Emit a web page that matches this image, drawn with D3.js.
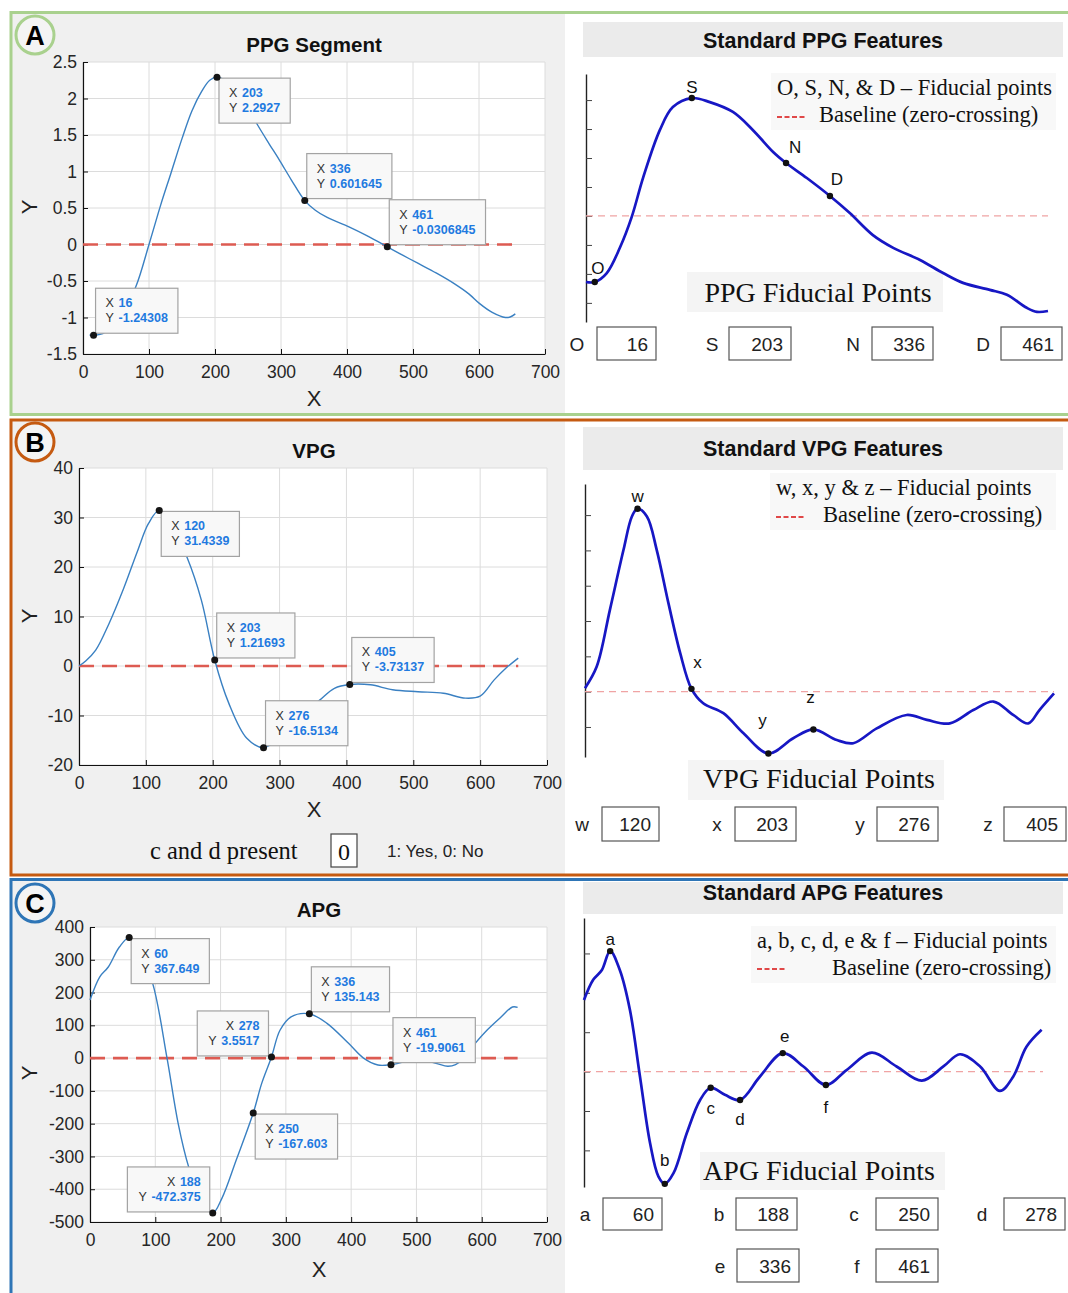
<!DOCTYPE html>
<html><head><meta charset="utf-8">
<script src="https://cdn.jsdelivr.net/npm/d3@7"></script>
<style>html,body{margin:0;padding:0;background:#fff;} svg{display:block;}</style>
</head><body>
<svg id="fig" width="1068" height="1293"></svg>
<script>
// ---------------- DATA ----------------
const xTicks = [0, 100, 200, 300, 400, 500, 600, 700];
const ppgYTicks = [-1.5, -1, -0.5, 0, 0.5, 1, 1.5, 2, 2.5];
const vpgYTicks = [-20, -10, 0, 10, 20, 30, 40];
const apgYTicks = [-500, -400, -300, -200, -100, 0, 100, 200, 300, 400];

// PPG segment (left, panel A)
const ppgX = [10, 16, 30, 45, 60, 80, 100, 118, 133, 150, 165, 180, 192, 203, 215, 230, 248, 265, 282, 298, 316, 336, 352, 370, 403, 430, 461, 485, 508, 535, 563, 585, 601, 620, 640, 648, 655];
const ppgY = [-1.24, -1.243, -1.22, -1.12, -0.93, -0.58, 0.0, 0.55, 0.97, 1.45, 1.83, 2.1, 2.25, 2.2927, 2.25, 2.12, 1.9, 1.63, 1.38, 1.15, 0.88, 0.6016, 0.47, 0.37, 0.24, 0.12, -0.031, -0.15, -0.26, -0.39, -0.54, -0.68, -0.81, -0.93, -1.0, -0.99, -0.95];
const ppgTipX = [16, 203, 336, 461];
const ppgTipY = [-1.24308, 2.2927, 0.601645, -0.0306845];
const ppgTipPlace = ['ar', 'br', 'ar', 'ar'];

// VPG (left, panel B)
const vpgX = [0, 10, 25, 45, 66, 88, 104, 120, 140, 162, 183, 203, 224, 251, 276, 300, 330, 360, 382, 405, 436, 469, 507, 545, 578, 600, 621, 638, 657];
const vpgY = [0, 1.0, 3.2, 8.6, 15.4, 23.4, 28.8, 31.43, 28.0, 21.8, 13.3, 1.22, -7.5, -14.6, -16.51, -14.5, -10.5, -6.9, -4.5, -3.73, -3.8, -4.8, -5.2, -5.5, -6.5, -6.1, -2.8, -0.5, 1.6];
const vpgTipX = [120, 203, 276, 405];
const vpgTipY = [31.4339, 1.21693, -16.5134, -3.73137];
const vpgTipPlace = ['br', 'ar', 'ar', 'ar'];

// APG (left, panel C)
const apgX = [0, 15, 28, 45, 60, 75, 96, 118, 135, 151, 170, 188, 202, 224, 250, 263, 278, 291, 308, 336, 363, 396, 419, 441, 461, 485, 505, 530, 548, 560, 570, 590, 608, 630, 647, 655];
const apgY = [177, 248, 278, 339, 367.6, 330, 228, 0, -199, -331, -430, -472.4, -428, -311, -167.6, -77, 3.55, 85, 126, 135.1, 106, 45, 0, -21, -19.9, -10, -5, -16, -25, -20, -5, 45, 85, 126, 156, 155];
const apgTipX = [60, 188, 250, 278, 336, 461];
const apgTipY = [367.649, -472.375, -167.603, 3.5517, 135.143, -19.9061];
const apgTipPlace = ['br', 'al', 'br', 'al', 'ar', 'ar'];

// Standard (schematic) curves, right column — arbitrary units
const stdPpgX = [0, 1.9, 4.5, 7.4, 9.9, 12.4, 16.0, 18.8, 22.9, 26.8, 31.8, 36.1, 40.5, 43.3, 47.8, 52.8, 57.1, 62.1, 66.5, 72.3, 77.3, 81.6, 87.4, 91.1, 95.4, 97.6, 100];
const stdPpgY = [-2.28, -2.28, -1.97, -1.07, -0.03, 1.34, 2.97, 3.76, 4.07, 3.93, 3.59, 2.97, 2.21, 1.83, 1.31, 0.69, 0.10, -0.66, -1.10, -1.52, -1.97, -2.31, -2.55, -2.72, -3.17, -3.31, -3.28];
const stdPpgTicks = [-3, -2, -1, 0, 1, 2, 3, 4];
const ppgFidNames = ['O', 'S', 'N', 'D'];
const ppgFidStdX = [1.9, 22.9, 43.3, 52.8];
const ppgFidStdY = [-2.28, 4.07, 1.83, 0.69];
const ppgFidValues = [16, 203, 336, 461];

const stdVpgX = [0, 2.5, 5.3, 8.2, 10.0, 11.2, 13.2, 15.3, 17.8, 20.3, 22.7, 25.2, 29.5, 33.8, 39.1, 44.4, 48.7, 53.7, 57.2, 62.2, 68.6, 72.9, 77.8, 82.8, 87.1, 91.3, 94.5, 96.9, 100];
const stdVpgY = [0.10, 0.71, 2.31, 4.01, 4.96, 5.18, 4.96, 4.01, 2.50, 1.09, 0.08, -0.33, -0.61, -1.18, -1.75, -1.32, -1.07, -1.37, -1.46, -1.04, -0.66, -0.80, -0.90, -0.52, -0.28, -0.66, -0.90, -0.52, -0.05];
const stdVpgTicks = [-1, 0, 1, 2, 3, 4, 5];
const vpgFidNames = ['w', 'x', 'y', 'z'];
const vpgFidStdX = [11.2, 22.7, 39.1, 48.7];
const vpgFidStdY = [5.18, 0.08, -1.75, -1.07];
const vpgFidValues = [120, 203, 276, 405];

const stdApgX = [0, 2.0, 3.9, 5.7, 7.8, 10.0, 12.2, 14.4, 16.2, 17.6, 19.5, 22.4, 25.3, 27.6, 30.7, 34.0, 38.3, 43.3, 47.8, 52.7, 57.2, 62.7, 68.1, 73.6, 78.3, 81.9, 86.3, 90.6, 93.5, 96.4, 99.7];
const stdApgY = [1.82, 2.33, 2.58, 3.06, 2.58, 1.57, -0.13, -1.82, -2.66, -2.85, -2.58, -1.56, -0.72, -0.41, -0.59, -0.72, -0.13, 0.47, 0.13, -0.34, 0.04, 0.48, 0.13, -0.23, 0.13, 0.44, 0.13, -0.49, -0.13, 0.63, 1.06];
const stdApgTicks = [-2, -1, 0, 1, 2, 3];
const apgFidNames = ['a', 'b', 'c', 'd', 'e', 'f'];
const apgFidStdX = [5.7, 17.6, 27.6, 34.0, 43.3, 52.7];
const apgFidStdY = [3.06, -2.85, -0.41, -0.72, 0.47, -0.34];
const apgFidValues = [60, 188, 250, 278, 336, 461];

const cdPresent = 0;

// ---------------- DRAWING ----------------
const SANS = "'Liberation Sans', Arial, Helvetica, sans-serif";
const SERIF = "'Liberation Serif', 'Times New Roman', Times, serif";
const svg = d3.select('#fig');
svg.append('rect').attr('width', 1068).attr('height', 1293).attr('fill', '#fff');

// panel backgrounds (left grey halves)
svg.append('rect').attr('x', 12).attr('y', 14).attr('width', 553).attr('height', 399).attr('fill', '#f0f0f0');
svg.append('rect').attr('x', 12).attr('y', 421).attr('width', 553).attr('height', 453).attr('fill', '#f0f0f0');
svg.append('rect').attr('x', 12).attr('y', 881).attr('width', 553).attr('height', 412).attr('fill', '#f0f0f0');

// frames
svg.append('rect').attr('x', 11).attr('y', 12.5).attr('width', 1080).attr('height', 402).attr('fill', 'none').attr('stroke', '#a9d18e').attr('stroke-width', 3);
svg.append('rect').attr('x', 11).attr('y', 420).attr('width', 1080).attr('height', 455).attr('fill', 'none').attr('stroke', '#c55a11').attr('stroke-width', 3);
svg.append('rect').attr('x', 11).attr('y', 879.5).attr('width', 1080).attr('height', 440).attr('fill', 'none').attr('stroke', '#2e75b6').attr('stroke-width', 3);

function badge(cx, cy, letter, color) {
  svg.append('circle').attr('cx', cx).attr('cy', cy).attr('r', 19).attr('fill', '#f4f4f4').attr('stroke', color).attr('stroke-width', 3);
  svg.append('text').attr('x', cx).attr('y', cy + 9.5).attr('text-anchor', 'middle').attr('font-family', SANS)
    .attr('font-weight', 'bold').attr('font-size', 27).attr('fill', '#000').text(letter);
}
badge(35, 35, 'A', '#a9d18e');
badge(35, 442, 'B', '#c55a11');
badge(35, 903, 'C', '#2e75b6');

function fmt(d) { return String(d); }

function leftPlot(cfg) {
  const x = d3.scaleLinear().domain([0, 700]).range([cfg.left, cfg.right]);
  const y = d3.scaleLinear().domain(cfg.yDomain).range([cfg.bottom, cfg.top]);
  const g = svg.append('g');
  g.append('rect').attr('x', cfg.left).attr('y', cfg.top).attr('width', cfg.right - cfg.left)
    .attr('height', cfg.bottom - cfg.top).attr('fill', '#fff');
  g.selectAll('line.gx').data(xTicks).join('line').attr('class', 'gx')
    .attr('x1', d => x(d)).attr('x2', d => x(d)).attr('y1', cfg.top).attr('y2', cfg.bottom)
    .attr('stroke', '#dcdcdc').attr('stroke-width', 1);
  g.selectAll('line.gy').data(cfg.yTicks).join('line').attr('class', 'gy')
    .attr('x1', cfg.left).attr('x2', cfg.right).attr('y1', d => y(d)).attr('y2', d => y(d))
    .attr('stroke', '#dcdcdc').attr('stroke-width', 1);

  const ax = g.append('g').attr('transform', `translate(0,${cfg.bottom})`)
    .call(d3.axisBottom(x).tickValues(xTicks).tickSize(-5).tickSizeOuter(0).tickPadding(12).tickFormat(fmt));
  const ay = g.append('g').attr('transform', `translate(${cfg.left},0)`)
    .call(d3.axisLeft(y).tickValues(cfg.yTicks).tickSize(-5).tickSizeOuter(0).tickPadding(6).tickFormat(fmt));
  [ax, ay].forEach(a => {
    a.attr('font-family', SANS).attr('font-size', 17.5);
    a.selectAll('text').attr('fill', '#262626');
    a.selectAll('line').attr('stroke', '#111');
    a.select('.domain').attr('stroke', '#111').attr('stroke-width', 1.2);
  });

  // zero baseline
  g.append('line').attr('x1', x(0)).attr('x2', x(d3.max(cfg.xs))).attr('y1', y(0)).attr('y2', y(0))
    .attr('stroke', '#dd5b52').attr('stroke-width', 2.6).attr('stroke-dasharray', '15,8');

  // curve
  const pts = cfg.xs.map((v, i) => [v, cfg.ys[i]]);
  g.append('path').datum(pts).attr('fill', 'none').attr('stroke', '#3a80c2').attr('stroke-width', 1.4)
    .attr('d', d3.line().x(d => x(d[0])).y(d => y(d[1])).curve(d3.curveCatmullRom.alpha(0.5)));

  // data tips
  cfg.tipX.forEach((tx, i) => {
    const px = x(tx), py = y(cfg.tipY[i]);
    const place = cfg.tipPlace[i];
    const tg = g.append('g');
    const box = tg.append('rect');
    const lines = [['X', fmt(tx)], ['Y', fmt(cfg.tipY[i])]];
    const valNodes = lines.map((l, k) => tg.append('text').attr('font-family', SANS).attr('font-size', 12.5)
      .attr('font-weight', 'bold').attr('fill', '#1f7ae0').text(l[1]));
    const labNodes = lines.map((l, k) => tg.append('text').attr('font-family', SANS).attr('font-size', 12.5)
      .attr('fill', '#333').text(l[0]));
    const vw = valNodes.map(n => n.node().getComputedTextLength());
    const maxW = d3.max(vw);
    const w = 23 + maxW + 10, h = 45;
    let bx, by;
    if (place === 'br') { bx = px + 2; by = py + 1; }
    else if (place === 'ar') { bx = px + 2; by = py - h - 2; }
    else { bx = px - w - 3; by = py - h - 1; }
    box.attr('x', bx).attr('y', by).attr('width', w).attr('height', h)
      .attr('fill', '#f8f8f8').attr('stroke', '#a3a3a3').attr('stroke-width', 1.2);
    lines.forEach((l, k) => {
      const base = by + 19 + k * 15;
      if (place === 'al') {
        const vx = bx + w - 9 - vw[k];
        valNodes[k].attr('x', vx).attr('y', base);
        labNodes[k].attr('x', vx - 13).attr('y', base);
      } else {
        valNodes[k].attr('x', bx + 23).attr('y', base);
        labNodes[k].attr('x', bx + 10).attr('y', base);
      }
    });
    g.append('circle').attr('cx', px).attr('cy', py).attr('r', 3.5).attr('fill', '#151515');
  });

  // titles
  g.append('text').attr('x', cfg.cx).attr('y', cfg.titleY).attr('text-anchor', 'middle').attr('font-family', SANS)
    .attr('font-weight', 'bold').attr('font-size', 20.5).attr('fill', '#111').text(cfg.title);
  g.append('text').attr('x', cfg.cx).attr('y', cfg.xLabelY).attr('text-anchor', 'middle').attr('font-family', SANS)
    .attr('font-size', 22).attr('fill', '#222').text('X');
  g.append('text').attr('transform', `translate(${cfg.yLabelX},${cfg.yLabelY}) rotate(-90)`).attr('text-anchor', 'middle')
    .attr('font-family', SANS).attr('font-size', 22).attr('fill', '#222').text('Y');
}

leftPlot({ left: 83, right: 545, top: 62, bottom: 354, yDomain: [-1.5, 2.5], yTicks: ppgYTicks,
  xs: ppgX, ys: ppgY, tipX: ppgTipX, tipY: ppgTipY, tipPlace: ppgTipPlace,
  title: 'PPG Segment', cx: 314, titleY: 52, xLabelY: 406, yLabelX: 37, yLabelY: 207 });
leftPlot({ left: 79, right: 547, top: 468, bottom: 765, yDomain: [-20, 40], yTicks: vpgYTicks,
  xs: vpgX, ys: vpgY, tipX: vpgTipX, tipY: vpgTipY, tipPlace: vpgTipPlace,
  title: 'VPG', cx: 314, titleY: 458, xLabelY: 817, yLabelX: 37, yLabelY: 616 });
leftPlot({ left: 90, right: 547, top: 927, bottom: 1222, yDomain: [-500, 400], yTicks: apgYTicks,
  xs: apgX, ys: apgY, tipX: apgTipX, tipY: apgTipY, tipPlace: apgTipPlace,
  title: 'APG', cx: 319, titleY: 917, xLabelY: 1277, yLabelX: 37, yLabelY: 1073 });

// "c and d present" row
svg.append('text').attr('x', 150).attr('y', 859).attr('font-family', SERIF).attr('font-size', 24.5).attr('fill', '#111').text('c and d present');
svg.append('rect').attr('x', 331).attr('y', 834).attr('width', 26).attr('height', 33).attr('fill', '#fff').attr('stroke', '#444').attr('stroke-width', 1.2);
svg.append('text').attr('x', 344).attr('y', 860).attr('text-anchor', 'middle').attr('font-family', SERIF).attr('font-size', 24).attr('fill', '#111').text(fmt(cdPresent));
svg.append('text').attr('x', 387).attr('y', 857).attr('font-family', SANS).attr('font-size', 17).attr('fill', '#222').text('1: Yes, 0: No');

// ---------------- right column ----------------
function titleBar(y0, y1, baseline, text) {
  svg.append('rect').attr('x', 583).attr('y', y0).attr('width', 480).attr('height', y1 - y0).attr('fill', '#ebebeb');
  svg.append('text').attr('x', 823).attr('y', baseline).attr('text-anchor', 'middle').attr('font-family', SANS)
    .attr('font-weight', 'bold').attr('font-size', 21.5).attr('fill', '#111').text(text);
}
titleBar(22, 57, 48, 'Standard PPG Features');
titleBar(427, 470, 456, 'Standard VPG Features');
titleBar(882, 914, 900, 'Standard APG Features');

function stdPlot(cfg) {
  const x = d3.scaleLinear().domain([0, 100]).range([cfg.x0, cfg.x1]);
  const y = d3.scaleLinear().domain(cfg.yDomain).range([cfg.yBottom, cfg.yTop]);
  const g = svg.append('g');
  // faint label / legend backgrounds
  g.append('rect').attr('x', cfg.lblBg[0]).attr('y', cfg.lblBg[1]).attr('width', cfg.lblBg[2]).attr('height', cfg.lblBg[3]).attr('fill', '#f4f4f4');
  g.append('rect').attr('x', cfg.leg[0] - 6).attr('y', cfg.leg[1] - 22).attr('width', 1062 - cfg.leg[0]).attr('height', cfg.leg[4] - cfg.leg[1] + 30).attr('fill', '#f8f8f8');
  const ay = g.append('g').attr('transform', `translate(${cfg.x0},0)`)
    .call(d3.axisRight(y).tickValues(cfg.ticks).tickSize(6).tickSizeOuter(0).tickFormat(''));
  ay.select('.domain').attr('stroke', '#222').attr('stroke-width', 1.4);
  ay.selectAll('line').attr('stroke', '#444');
  g.append('line').attr('x1', cfg.x0).attr('x2', x(100)).attr('y1', y(0)).attr('y2', y(0))
    .attr('stroke', '#f0a4a4').attr('stroke-width', 1.3).attr('stroke-dasharray', '7,5');
  const pts = cfg.xs.map((v, i) => [v, cfg.ys[i]]);
  g.append('path').datum(pts).attr('fill', 'none').attr('stroke', '#1717c4').attr('stroke-width', 2.7)
    .attr('d', d3.line().x(d => x(d[0])).y(d => y(d[1])).curve(d3.curveCatmullRom.alpha(0.5)));
  cfg.fx.forEach((fv, i) => {
    g.append('circle').attr('cx', x(fv)).attr('cy', y(cfg.fy[i])).attr('r', 3.2).attr('fill', '#111');
    g.append('text').attr('x', x(fv) + cfg.lblOff[i][0]).attr('y', y(cfg.fy[i]) + cfg.lblOff[i][1] + 6)
      .attr('text-anchor', 'middle').attr('font-family', SANS).attr('font-size', 17).attr('fill', '#111').text(cfg.names[i]);
  });
  // legend
  g.append('text').attr('x', cfg.leg[0]).attr('y', cfg.leg[1]).attr('font-family', SERIF).attr('font-size', 22.5).attr('fill', '#111').text(cfg.legText);
  g.append('line').attr('x1', cfg.leg[0]).attr('x2', cfg.leg[0] + 29).attr('y1', cfg.leg[2]).attr('y2', cfg.leg[2])
    .attr('stroke', '#e04848').attr('stroke-width', 2).attr('stroke-dasharray', '5,2.5');
  g.append('text').attr('x', cfg.leg[3]).attr('y', cfg.leg[4]).attr('font-family', SERIF).attr('font-size', 22.5).attr('fill', '#111').text('Baseline (zero-crossing)');
  g.append('text').attr('x', cfg.lblX).attr('y', cfg.lblY).attr('text-anchor', 'middle').attr('font-family', SERIF)
    .attr('font-size', 28).attr('fill', '#111').text(cfg.label);
}

stdPlot({ x0: 586, x1: 1048, yTop: 74, yBottom: 322, yDomain: [-3.66, 4.9], ticks: stdPpgTicks,
  xs: stdPpgX, ys: stdPpgY, fx: ppgFidStdX, fy: ppgFidStdY, names: ppgFidNames,
  lblOff: [[3, -14], [0, -11], [9, -16], [7, -17]],
  leg: [777, 95, 117, 819, 122], legText: 'O, S, N, & D \u2013 Fiducial points',
  lblX: 818, lblY: 302, label: 'PPG Fiducial Points', lblBg: [687, 272, 256, 40] });
stdPlot({ x0: 585, x1: 1054, yTop: 484, yBottom: 757, yDomain: [-1.85, 5.88], ticks: stdVpgTicks,
  xs: stdVpgX, ys: stdVpgY, fx: vpgFidStdX, fy: vpgFidStdY, names: vpgFidNames,
  lblOff: [[0, -13], [6, -27], [-6, -33], [-3, -32]],
  leg: [776, 495, 517, 823, 522], legText: 'w, x, y & z \u2013 Fiducial points',
  lblX: 819, lblY: 788, label: 'VPG Fiducial Points', lblBg: [688, 760, 256, 40] });
stdPlot({ x0: 584, x1: 1043, yTop: 918, yBottom: 1187, yDomain: [-2.93, 3.9], ticks: stdApgTicks,
  xs: stdApgX, ys: stdApgY, fx: apgFidStdX, fy: apgFidStdY, names: apgFidNames,
  lblOff: [[0, -12], [0, -24], [0, 20], [0, 19], [2, -17], [0, 22]],
  leg: [757, 948, 969, 832, 975], legText: 'a, b, c, d, e & f \u2013 Fiducial points',
  lblX: 819, lblY: 1180, label: 'APG Fiducial Points', lblBg: [700, 1152, 245, 38] });

function fidBoxes(names, values, labelXs, boxes, y0, y1) {
  names.forEach((n, i) => {
    const cy = (y0 + y1) / 2;
    svg.append('text').attr('x', labelXs[i]).attr('y', cy + 7).attr('text-anchor', 'middle').attr('font-family', SANS)
      .attr('font-size', 19).attr('fill', '#222').text(n);
    svg.append('rect').attr('x', boxes[i][0]).attr('y', y0).attr('width', boxes[i][1] - boxes[i][0]).attr('height', y1 - y0)
      .attr('fill', '#fff').attr('stroke', '#555').attr('stroke-width', 1.2);
    svg.append('text').attr('x', boxes[i][1] - 8).attr('y', cy + 7).attr('text-anchor', 'end').attr('font-family', SANS)
      .attr('font-size', 19).attr('fill', '#222').text(fmt(values[i]));
  });
}
fidBoxes(ppgFidNames, ppgFidValues, [577, 712, 853, 983], [[597, 656], [729, 791], [872, 933], [1001, 1062]], 327, 360);
fidBoxes(vpgFidNames, vpgFidValues, [582, 717, 860, 988], [[602, 659], [735, 796], [877, 938], [1004, 1066]], 807, 841);
fidBoxes(apgFidNames.slice(0, 4), apgFidValues.slice(0, 4), [585, 719, 854, 982], [[603, 662], [736, 797], [876, 938], [1004, 1065]], 1198, 1230);
fidBoxes(apgFidNames.slice(4), apgFidValues.slice(4), [720, 857], [[737, 799], [876, 938]], 1249, 1282);
</script>
</body></html>
